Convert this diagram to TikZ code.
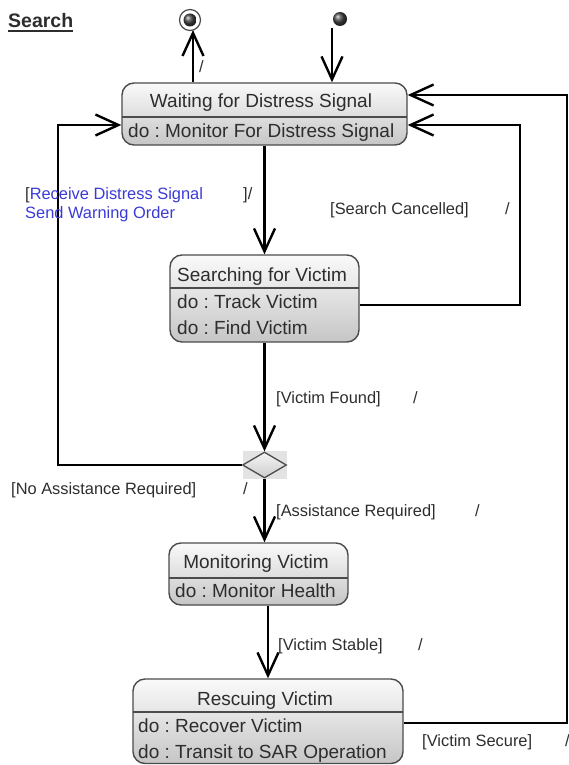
\documentclass[tikz,border=0pt]{standalone}
\usepackage{fontspec}
\setmainfont{Liberation Sans}
\usetikzlibrary{arrows.meta,shapes.geometric,calc}
\definecolor{txt}{RGB}{45,45,45}
\definecolor{bluetxt}{RGB}{58,58,214}
\definecolor{edgegray}{RGB}{75,75,75}
\newcommand\statefont{\fontsize{19}{22}\selectfont}
\newcommand\lblfont{\fontsize{16.4}{19}\selectfont}
\frenchspacing
\begin{document}
\begin{tikzpicture}[x=1pt,y=-1pt,
  statebox/.style={draw=edgegray, line width=1.4pt, rounded corners=12pt,
    top color=gray!4, bottom color=gray!45, inner sep=0pt},
  divider/.style={draw=edgegray, line width=1.4pt},
  statetext/.style={inner sep=0pt, text=txt, font=\statefont},
  lbl/.style={inner sep=0pt, text=txt, font=\lblfont, anchor=base west},
  conn/.style={draw=black, line width=2.4pt, -{Straight Barb[length=23pt,width=21pt]}},
  line/.style={draw=black, line width=2.4pt}
]
\useasboundingbox (0,0) rectangle (569,765);

% title
\node[inner sep=0pt, anchor=base west, text=txt, font=\bfseries\fontsize{19.5}{21}\selectfont] (title) at (8,27.5) {Search};
\draw[txt, line width=1.5pt] ($(title.base west)+(0,3.5)$) -- ($(title.base east)+(0,3.5)$);

% initial and final
\node[circle, draw=edgegray, line width=1.2pt, fill=white, minimum size=21pt, inner sep=0pt] (final) at (190,20) {};
\shade[ball color=gray!55!black] (final.center) circle[radius=6.5pt];
\node[circle, minimum size=14pt, inner sep=0pt, ball color=gray!55!black] (init) at (340,19) {};

% states
\node[statebox, minimum width=285pt, minimum height=62pt] (wait) at (264.5,114) {};
\draw[divider] (122,117) -- (407,117);
\node[statetext, anchor=base] (waitT) at (261,108) {Waiting for Distress Signal};
\node[statetext, anchor=base west] (waitA) at (128,137) {do : Monitor For Distress Signal};

\node[statebox, minimum width=189pt, minimum height=87pt] (search) at (264.5,298.5) {};
\draw[divider] (170,288) -- (359,288);
\node[statetext, anchor=base west] (searchT) at (177,281) {Searching for Victim};
\node[statetext, anchor=base west] (searchA) at (177,308) {do : Track Victim};
\node[statetext, anchor=base west] (searchB) at (177,334) {do : Find Victim};

\fill[gray!22] (242.5,451) rectangle (287,479);
\node[diamond, aspect=1.7, draw=edgegray, line width=1.3pt, top color=gray!8, bottom color=gray!40,
  minimum width=44pt, minimum height=26pt, inner sep=0pt] (dia) at (264.5,465) {};

\node[statebox, minimum width=179pt, minimum height=62pt] (mon) at (258.5,574) {};
\draw[divider] (169,578) -- (348,578);
\node[statetext, anchor=base] (monT) at (256,568) {Monitoring Victim};
\node[statetext, anchor=base west] (monA) at (175,597) {do : Monitor Health};

\node[statebox, minimum width=270pt, minimum height=84.5pt] (rescue) at (268,721.25) {};
\draw[divider] (133,712) -- (403,712);
\node[statetext, anchor=base] (resT) at (265,705) {Rescuing Victim};
\node[statetext, anchor=base west] (resA) at (138,732) {do : Recover Victim};
\node[statetext, anchor=base west] (resB) at (138,758) {do : Transit to SAR Operation};

% ports and bends
\coordinate (initOut) at ($(init.south)+(-8,2)$);
\coordinate (finIn) at ($(final.south)+(3,-1)$);
\coordinate (wL) at ($(wait.west)+(0,11)$);
\coordinate (wR1) at ($(wait.east)+(0,-19)$);
\coordinate (wR2) at ($(wait.east)+(0,11)$);
\coordinate (sR) at ($(search.east)+(0,6.5)$);
\coordinate (rR) at ($(rescue.east)+(0,1.75)$);
\coordinate (bendL) at (58,465);
\coordinate (bendR) at (520,305);
\coordinate (bendRR) at (567,723);

% connectors
\draw[conn] (initOut) -- (initOut |- wait.north);
\draw[conn] (finIn |- wait.north) -- (finIn);
\draw[conn] (wait.south) -- (search.north);
\draw[conn] (search.south) -- (dia.north);
\draw[conn] (dia.west) -- (bendL) |- (wL);
\draw[conn] (sR) -- (bendR) |- (wR2);
\draw[conn] (rR) -- (bendRR) |- (wR1);
\draw[conn] (dia.south) -- (dia.south |- mon.north);
\draw[conn] (mon.south -| rescue.north) -- (rescue.north);

% labels
\node[lbl] (l0) at (199,73) {/};
\node[lbl] (l1a) at (25,199) {[\textcolor{bluetxt}{Receive Distress Signal}};
\node[lbl] (l1b) at (243,199) {]/};
\node[lbl, text=bluetxt] (l1c) at (25,218) {Send Warning Order};
\node[lbl] (l2a) at (330,214) {[Search Cancelled]};
\node[lbl] (l2b) at (505,214) {/};
\node[lbl] (l3a) at (276,403) {[Victim Found]};
\node[lbl] (l3b) at (413,403) {/};
\node[lbl] (l4a) at (11,494) {[No Assistance Required]};
\node[lbl] (l4b) at (243,494) {/};
\node[lbl] (l5a) at (276,516) {[Assistance Required]};
\node[lbl] (l5b) at (475,516) {/};
\node[lbl] (l6a) at (278,650) {[Victim Stable]};
\node[lbl] (l6b) at (418,650) {/};
\node[lbl] (l7a) at (422,746) {[Victim Secure]};
\node[lbl] (l7b) at (565,746) {/};
\end{tikzpicture}
\end{document}
